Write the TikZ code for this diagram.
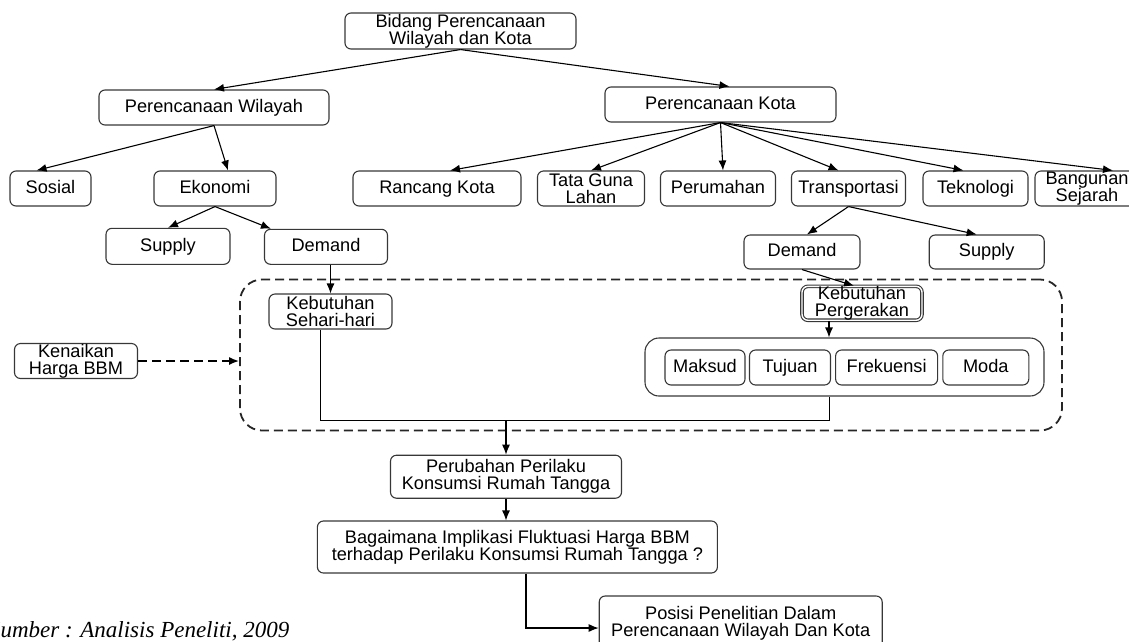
\documentclass[tikz,border=0pt]{standalone}
\usepackage{fontspec}
\setmainfont{Liberation Sans}
\newfontfamily\sumberfont{Liberation Serif}
\usetikzlibrary{positioning,shapes,arrows.meta,calc}
\definecolor{boxgray}{RGB}{55,55,55}

\begin{document}
\begin{tikzpicture}[
    x=1pt, y=-1pt,
    >={Latex[length=10pt,width=8pt]},
    line width=1.1pt,
    box/.style={rectangle, rounded corners=6pt, draw=boxgray, line width=1.1pt, inner sep=0pt, align=center, minimum height=35pt, font=\fontsize{18.2}{17}\selectfont},
    one/.style={box, text height=13.5pt, text depth=4pt},
    group/.style={rectangle, rounded corners=14pt, draw=boxgray, line width=1.1pt, inner sep=0pt},
    frame/.style={rectangle, rounded corners=22pt, draw=black!85, line width=1.8pt, dash pattern=on 9pt off 5pt, inner sep=0pt}
]
\useasboundingbox (0,0) rectangle (1129,641);

\node[frame, minimum width=822pt, minimum height=151pt] (zone) at (651,355) {};

\node[box, minimum width=231pt, minimum height=36pt] (bidang) at (460.5,31) {Bidang Perencanaan\\Wilayah dan Kota};
\node[one, minimum width=230pt] (pw) at (214,107.5) {Perencanaan Wilayah};
\node[one, minimum width=231pt] (pk) at (720.5,104.5) {Perencanaan Kota};

\node[one, minimum width=81pt] (sosial) at (50.5,188.5) {Sosial};
\node[one, minimum width=122pt] (ekonomi) at (215,188.5) {Ekonomi};
\node[one, minimum width=168pt] (rancang) at (437,188.5) {Rancang Kota};
\node[box, minimum width=107pt] (tata) at (591,188.5) {Tata Guna\\Lahan};
\node[one, minimum width=115pt] (rumah) at (718,188.5) {Perumahan};
\node[one, minimum width=114pt] (transport) at (848.5,188.5) {Transportasi};
\node[one, minimum width=105pt] (tekno) at (975.5,188.5) {Teknologi};
\node[box, minimum width=104pt] (bangunan) at (1087,188.5) {Bangunan\\Sejarah};

\node[one, minimum width=124pt, minimum height=36pt] (supplyL) at (168,246.3) {Supply};
\node[one, minimum width=123pt] (demandL) at (326,246.8) {Demand};
\node[one, minimum width=116pt, minimum height=34pt] (demandR) at (802,252) {Demand};
\node[one, minimum width=115pt, minimum height=34pt] (supplyR) at (986.7,252) {Supply};

\node[box, minimum width=123pt] (kenaikan) at (76,361) {Kenaikan\\Harga BBM};
\node[box, minimum width=123pt] (ksh) at (330.5,311.5) {Kebutuhan\\Sehari-hari};
\node[box, minimum width=120pt, minimum height=31pt, double=white, double distance=1.4pt] (kp) at (862,303.3) {Kebutuhan\\Pergerakan};

\node[group, minimum width=399pt, minimum height=58pt] (ciri) at (844.5,367) {};
\node[one, minimum width=80pt] (maksud) at (705,367.5) {Maksud};
\node[one, minimum width=81pt] (tujuan) at (790,367.5) {Tujuan};
\node[one, minimum width=102pt] (frek) at (886.6,367.5) {Frekuensi};
\node[one, minimum width=86pt] (moda) at (985.8,367.5) {Moda};

\node[box, minimum width=231pt, minimum height=43pt] (perubahan) at (506,476.7) {Perubahan Perilaku\\Konsumsi Rumah Tangga};
\node[box, minimum width=400pt, minimum height=52pt] (bagaimana) at (517.4,547) {Bagaimana Implikasi Fluktuasi Harga BBM\\terhadap Perilaku Konsumsi Rumah Tangga ?};
\node[box, minimum width=283pt, minimum height=54pt] (posisi) at (740.7,623) {Posisi Penelitian Dalam\\Perencanaan Wilayah Dan Kota};

\node[anchor=base west, inner sep=0pt, font=\sumberfont\itshape\fontsize{23}{26}\selectfont] (sumber) at (-11.5,637) {Sumber : Analisis Peneliti, 2009};

\coordinate (merge) at (506,420.5);

\draw[->] (bidang.south) -- (pw.north);
\draw[->] (bidang.south) -- ([xshift=9pt]pk.north);
\draw[->] (pw.south) -- ([xshift=-14pt]sosial.north);
\draw[->] (pw.south) -- ([xshift=13pt]ekonomi.north);
\draw[->] (ekonomi.south) -- (supplyL.north);
\draw[->] (ekonomi.south) -- ([xshift=7pt]demandL.north west);
\draw[->] (pk.south) -- ([xshift=13pt]rancang.north);
\draw[->] (pk.south) -- (tata.north);
\draw[->] (pk.south) -- ([xshift=5pt]rumah.north);
\draw[->] (pk.south) -- ([xshift=-10pt]transport.north);
\draw[->] (pk.south) -- ([xshift=-12pt]tekno.north);
\draw[->] (pk.south) -- ([xshift=26pt]bangunan.north);
\draw[->] (transport.south) -- ([xshift=5pt]demandR.north);
\draw[->] (transport.south) -- ([xshift=-10pt]supplyR.north);
\draw[->] (ksh.north |- demandL.south) -- (ksh.north);
\draw[->] (demandR.south) -- ([xshift=-8pt]kp.north);
\draw[->] ([xshift=-33pt]kp.south) -- ([xshift=-33pt]kp.south |- ciri.north);
\draw ([xshift=-10pt]ksh.south) |- ([xshift=-15pt]ciri.south |- merge) -- ([xshift=-15pt]ciri.south);
\draw[->] (merge) -- (perubahan.north);
\draw[->, line width=1.6pt, dash pattern=on 9pt off 5pt] (kenaikan.east) -- (kenaikan.east -| zone.west);
\draw[->] (perubahan.south) -- (perubahan.south |- bagaimana.north);
\draw[->] ([xshift=8.6pt]bagaimana.south) |- ([yshift=-5pt]posisi.west);

\end{tikzpicture}
\end{document}
